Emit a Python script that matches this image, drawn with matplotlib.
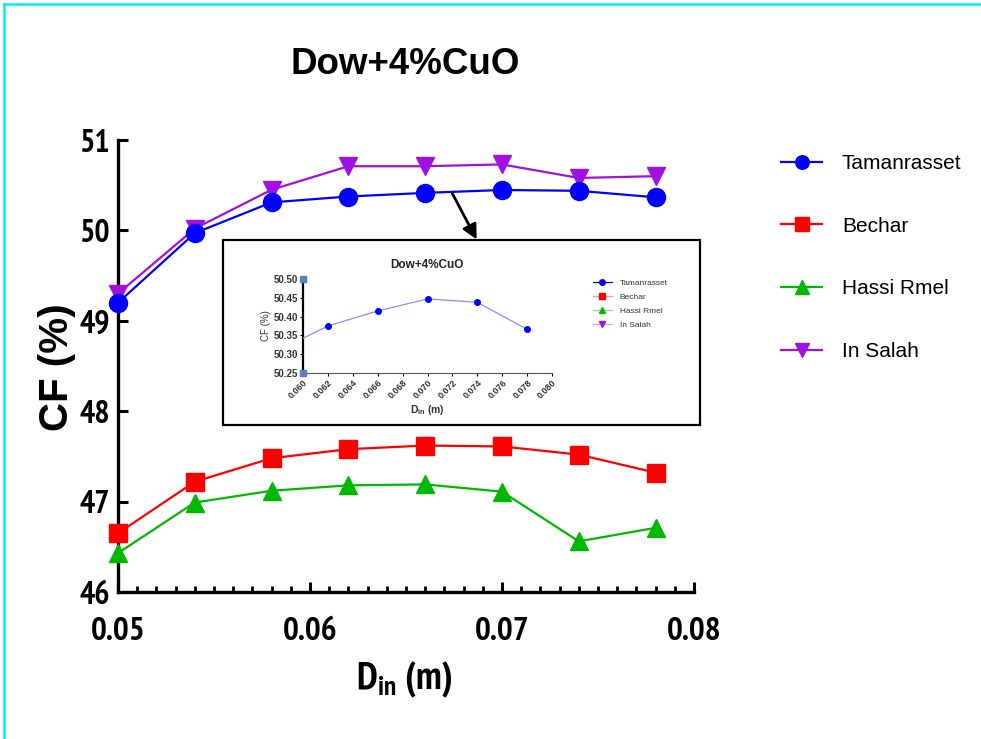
import matplotlib
matplotlib.use("Agg")
import matplotlib.pyplot as plt
from matplotlib.lines import Line2D
from matplotlib.patches import Rectangle, FancyArrowPatch
from matplotlib import font_manager as fm
import numpy as np

# ---------------- data ----------------
d_in = [0.050, 0.054, 0.058, 0.062, 0.066, 0.070, 0.074, 0.078]
tamanrasset = [49.20, 49.97, 50.31, 50.375, 50.415, 50.447, 50.438, 50.366]
bechar = [46.65, 47.22, 47.48, 47.58, 47.62, 47.61, 47.52, 47.32]
hassi_rmel = [46.43, 46.99, 47.12, 47.18, 47.19, 47.11, 46.56, 46.71]
in_salah = [49.30, 50.02, 50.45, 50.71, 50.71, 50.73, 50.58, 50.60]
series_names = ["Tamanrasset", "Bechar", "Hassi Rmel", "In Salah"]
x_ticks = [0.05, 0.06, 0.07, 0.08]
y_ticks = [46, 47, 48, 49, 50, 51]
inset_x_ticks = [0.060, 0.062, 0.064, 0.066, 0.068, 0.070, 0.072, 0.074, 0.076, 0.078, 0.080]
inset_y_ticks = [50.25, 50.30, 50.35, 50.40, 50.45, 50.50]

# ---------------- fonts ----------------
fl = fm.fontManager.ttflist
names = {f.name for f in fl}
REG = "Liberation Sans" if "Liberation Sans" in names else "DejaVu Sans"


def wnum(w):
    if isinstance(w, (int, float)):
        return w
    return fm.weight_dict.get(str(w).lower(), 400)


def find_narrow():
    bold = [f for f in fl if wnum(f.weight) >= 600]
    for f in bold:
        if f.name == "Liberation Sans Narrow":
            return f.name, "normal"
    for f in bold:
        if "Narrow" in f.name and "Mono" not in f.name and "Serif" not in f.name:
            return f.name, "normal"
    for f in bold:
        if "Condensed" in f.name and "Mono" not in f.name and "Serif" not in f.name:
            return f.name, "normal"
    for f in bold:
        if f.name in ("DejaVu Sans", "Roboto", "Open Sans", "Noto Sans", "Inter") and \
                str(f.stretch) in ("condensed", "semi-condensed", "extra-condensed"):
            return f.name, str(f.stretch)
    return REG, "normal"


NARROW, NSTRETCH = find_narrow()

plt.rcParams['font.family'] = [REG, 'DejaVu Sans']

W, H = 981, 739
fig = plt.figure(figsize=(W / 100, H / 100), dpi=100)


def fx(px):
    return px / W


def fy(py):
    return 1 - py / H


colors = ["#0000FF", "#FF0000", "#00B800", "#A010E0"]
markers = ["o", "s", "^", "v"]
data = [tamanrasset, bechar, hassi_rmel, in_salah]

# ---------------- main axes ----------------
AX_L, AX_R, AX_T, AX_B = 118, 694, 140, 592
ax = fig.add_axes([fx(AX_L), fy(AX_B), fx(AX_R - AX_L), fy(AX_T) - fy(AX_B)])
order = [3, 0, 1, 2]
handles = [None] * 4
for i in order:
    h, = ax.plot(d_in, data[i], color=colors[i], marker=markers[i], markersize=13,
                 linewidth=1.6, label=series_names[i], clip_on=False, zorder=3)
    handles[i] = h

ax.set_xlim(0.05, 0.08)
ax.set_ylim(46, 51)
ax.set_xticks(x_ticks)
ax.set_xticks(np.arange(0.05, 0.0805, 0.001), minor=True)
ax.set_yticks(y_ticks)
ax.set_xticklabels([f"{v:.2f}" for v in x_ticks])
ax.set_yticklabels([str(v) for v in y_ticks])
for s in ["top", "right"]:
    ax.spines[s].set_visible(False)
for s in ["left", "bottom"]:
    ax.spines[s].set_linewidth(2.4)
ax.tick_params(axis='both', which='major', direction='in', length=7, width=2.2)
ax.tick_params(axis='x', which='major', pad=18)
ax.tick_params(axis='y', which='major', pad=6)
ax.tick_params(axis='x', which='minor', direction='in', length=4, width=2.0)
for lab in ax.get_xticklabels():
    lab.set_fontfamily(NARROW)
    lab.set_fontstretch(NSTRETCH)
    lab.set_fontweight('bold')
    lab.set_fontsize(24)
for lab in ax.get_yticklabels():
    lab.set_fontfamily(NARROW)
    lab.set_fontstretch(NSTRETCH)
    lab.set_fontweight('bold')
    lab.set_fontsize(23)

ax.set_xlabel(r"D$_\mathregular{in}$ (m)", fontfamily=NARROW, fontstretch=NSTRETCH,
              fontweight='bold', fontsize=28)
ax.xaxis.set_label_coords((404 - AX_L) / (AX_R - AX_L), -(680 - AX_B) / (AX_B - AX_T))
ax.xaxis.label.set_verticalalignment('center')
ax.set_ylabel("CF (%)", fontfamily=REG, fontweight='bold', fontsize=29)
ax.yaxis.set_label_coords(-(AX_L - 57) / (AX_R - AX_L), 0.5 - (367 - 366) / (AX_B - AX_T))
ax.yaxis.label.set_verticalalignment('center')

fig.text(fx(405), fy(65), "Dow+4%CuO", ha='center', va='center', fontsize=26.5,
         fontweight='bold', fontfamily=REG)

leg = fig.legend(handles=handles, loc='center left',
                 bbox_to_anchor=(fx(771), fy(257.5)), frameon=False,
                 fontsize=15, handlelength=1.95, handletextpad=0.95,
                 labelspacing=2.1, borderpad=0, markerscale=0.75)

# ---------------- inset ----------------
fig.patches.append(Rectangle((fx(223), fy(425)), fx(700 - 223), fy(240) - fy(425),
                             transform=fig.transFigure, fill=False, edgecolor='black',
                             linewidth=1.6, zorder=5))
arrow = FancyArrowPatch((fx(451), fy(191)), (fx(478), fy(242)), transform=fig.transFigure,
                        arrowstyle='-|>', mutation_scale=22, color='black', linewidth=2.0)
fig.patches.append(arrow)

iax = fig.add_axes([fx(303), fy(373), fx(552 - 303), fy(279) - fy(373)])
iax.plot(d_in, tamanrasset, color='#8C8CFF', linewidth=0.9, marker='o', markersize=4,
         markerfacecolor='#0000FF', markeredgecolor='#0000FF', zorder=3)
iax.set_xlim(0.060, 0.080)
iax.set_ylim(50.25, 50.50)
iax.set_xticks(inset_x_ticks)
iax.set_yticks(inset_y_ticks)
iax.set_xticklabels([f"{v:.3f}" for v in inset_x_ticks], rotation=45, ha='right',
                    rotation_mode='anchor', fontsize=6.5, fontweight='bold', color='#333333')
iax.set_yticklabels([f"{v:.2f}" for v in inset_y_ticks], fontsize=7, fontweight='bold', color='#333333')
for s in ["top", "right"]:
    iax.spines[s].set_visible(False)
iax.spines['left'].set_linewidth(1.6)
iax.spines['bottom'].set_linewidth(0.8)
iax.spines['bottom'].set_color('#555555')
iax.tick_params(axis='both', direction='out', length=2, width=0.8, pad=1.5)
iax.set_xlabel(r"D$_\mathregular{in}$ (m)", fontsize=7.5, fontweight='bold', labelpad=2,
               color='#333333', fontfamily=REG)
iax.set_ylabel("CF (%)", fontsize=7, labelpad=2, color='#333333')
iax.plot([0.060, 0.060], [50.25, 50.50], linestyle='none', marker='s', markersize=5,
         color='#5A7FC0', clip_on=False, zorder=4)
fig.text(fx(427), fy(265), "Dow+4%CuO", ha='center', va='center', fontsize=8.5,
         fontweight='bold', color='#222222')

light = ["#0000FF", "#FF9A9A", "#7CE07C", "#E39AF0"]
ih = []
for i in range(4):
    ih.append(Line2D([0], [0], color=light[i], marker=markers[i], markersize=4,
                     markerfacecolor=colors[i], markeredgecolor=colors[i], linewidth=0.9))
fig.legend(handles=ih, labels=series_names, loc='center left',
           bbox_to_anchor=(fx(589), fy(304)), frameon=False, fontsize=6,
           handlelength=2.2, handletextpad=1.0, labelspacing=0.75, borderpad=0,
           labelcolor='#333333')

# ---------------- cyan frame ----------------
fig.add_artist(Line2D([fx(4), 1.0], [fy(4), fy(4)], transform=fig.transFigure,
                      color='#00F0F0', linewidth=1.8))
fig.add_artist(Line2D([fx(4), fx(4)], [fy(4), 0.0], transform=fig.transFigure,
                      color='#00F0F0', linewidth=1.8))

fig.savefig("out.png", dpi=100)
